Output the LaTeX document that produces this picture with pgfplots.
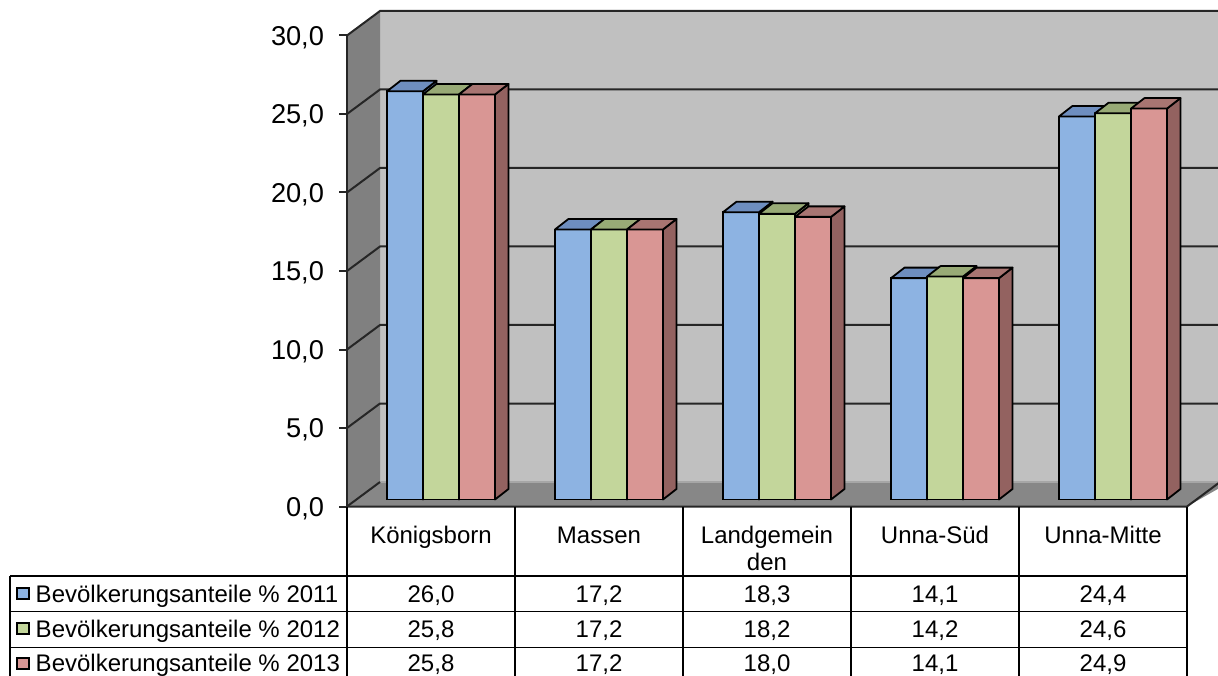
\documentclass[border=0pt]{standalone}
\usepackage{pgfplots}
\pgfplotsset{compat=1.18}
\usepackage{pgfplotstable}
\usepackage{fontspec}
\setmainfont{Liberation Sans}

\definecolor{cA}{HTML}{8DB3E2}
\definecolor{cAt}{HTML}{6E8EBF}
\definecolor{cAs}{HTML}{5E7BA6}
\definecolor{cB}{HTML}{C3D69B}
\definecolor{cBt}{HTML}{98AA76}
\definecolor{cBs}{HTML}{869668}
\definecolor{cC}{HTML}{D99694}
\definecolor{cCt}{HTML}{A87572}
\definecolor{cCs}{HTML}{936260}
\definecolor{wallL}{HTML}{808080}
\definecolor{wallB}{HTML}{C0C0C0}
\definecolor{floorc}{HTML}{878787}

\pgfplotstableread{
x v1 v2 v3
0 26.0 25.8 25.8
1 17.2 17.2 17.2
2 18.3 18.2 18.0
3 14.1 14.2 14.1
4 24.4 24.6 24.9
}\data

% 3D box of a bar (front, side, top); #2 = bar shift, #3 front, #4 top, #5 side colour
\newcommand\declbox[5]{%
\pgfdeclareplotmark{#1}{%
  \pgfmathsetlengthmacro\xl{#2-9pt}%
  \pgfmathsetlengthmacro\xr{#2+9pt}%
  \pgfmathsetlengthmacro\xlb{#2-9pt+6.75pt}%
  \pgfmathsetlengthmacro\xrb{#2+9pt+6.75pt}%
  \pgfmathsetlengthmacro\yb{-\val*7.85pt}%
  \pgfmathsetlengthmacro\ybb{-\val*7.85pt+5.25pt}%
  \pgfsetfillcolor{#3}%
  \pgfpathrectanglecorners{\pgfpoint{\xl}{\yb}}{\pgfpoint{\xr}{0pt}}%
  \pgfusepath{fill,stroke}%
  \pgfsetfillcolor{#5}%
  \pgfpathmoveto{\pgfpoint{\xr}{0pt}}%
  \pgfpathlineto{\pgfpoint{\xrb}{5.25pt}}%
  \pgfpathlineto{\pgfpoint{\xrb}{\ybb}}%
  \pgfpathlineto{\pgfpoint{\xr}{\yb}}%
  \pgfpathclose
  \pgfusepath{fill,stroke}%
  \pgfsetfillcolor{#4}%
  \pgfpathmoveto{\pgfpoint{\xl}{0pt}}%
  \pgfpathlineto{\pgfpoint{\xlb}{5.25pt}}%
  \pgfpathlineto{\pgfpoint{\xrb}{5.25pt}}%
  \pgfpathlineto{\pgfpoint{\xr}{0pt}}%
  \pgfpathclose
  \pgfusepath{fill,stroke}%
}}
\declbox{boxA}{-18pt}{cA}{cAt}{cAs}
\declbox{boxB}{0pt}{cB}{cBt}{cBs}
\declbox{boxC}{18pt}{cC}{cCt}{cCs}

\newcommand\tfont{\fontsize{12}{14}\selectfont}

\begin{document}
\begin{tikzpicture}
% walls and floor (pixel coordinates)
\begin{scope}[yshift=337.5pt, x=0.5pt, y=-0.5pt]
 \fill[wallB] (380,11) rectangle (1230,482);
 \fill[wallL] (347,35.5) -- (380,11) -- (380,482) -- (347,506.5) -- cycle;
 \fill[floorc] (347,506.5) -- (380,482) -- (1230,482) -- (1187,506.5) -- cycle;
 \draw[color=black!35, line width=0.6pt] (380,482) -- (1230,482);
 \foreach \v in {5,10,...,30} {
   \draw[black!85, line width=1pt] (347,506.5-15.7*\v) -- (380,482-15.7*\v) -- (1230,482-15.7*\v);
 }
 \draw[black!85, line width=1pt] (347,506.5) -- (380,482);
 \draw[black!85, line width=1pt] (347,506.5) -- (1187,506.5) -- (1220,482);
\end{scope}

% front value axis
\begin{axis}[at={(173.5pt,84.25pt)}, anchor=south west,
  x=84pt, y=7.85pt, xmin=-0.5, xmax=4.5, ymin=0, ymax=30,
  axis x line=none, axis y line*=left,
  ytick={0,5,...,30}, xtick=\empty,
  tick align=outside, major tick length=4pt,
  axis line style={line width=1pt, black!85},
  tick style={line width=1pt, black!85},
  yticklabel style={font=\fontsize{13.6}{15}\selectfont, xshift=-4pt, yshift=-1pt,
    /pgf/number format/fixed, /pgf/number format/fixed zerofill,
    /pgf/number format/precision=1, /pgf/number format/use comma,
    /pgf/number format/assume math mode=true},
  clip=false]
\addplot[draw=none, forget plot] coordinates {(0,0)};
\end{axis}

% bars
\begin{axis}[at={(178.5pt,87.75pt)}, anchor=south west,
  x=84pt, y=7.85pt, xmin=-0.5, xmax=4.5, ymin=0, ymax=30,
  hide axis, clip=false]
\addplot[ybar, bar width=18pt, bar shift=-18pt, fill=cA, draw=black, line width=0.9pt] table[x=x,y=v1]{\data};
\addplot[ybar, bar width=18pt, bar shift=0pt, fill=cB, draw=black, line width=0.9pt] table[x=x,y=v2]{\data};
\addplot[ybar, bar width=18pt, bar shift=18pt, fill=cC, draw=black, line width=0.9pt] table[x=x,y=v3]{\data};
\addplot[only marks, mark=boxA, draw=black, line width=0.9pt, line join=round, mark options={line width=0.9pt, draw=black},
  visualization depends on={\thisrow{v1}\as\val}] table[x=x,y=v1]{\data};
\addplot[only marks, mark=boxB, draw=black, line width=0.9pt, line join=round, mark options={line width=0.9pt, draw=black},
  visualization depends on={\thisrow{v2}\as\val}] table[x=x,y=v2]{\data};
\addplot[only marks, mark=boxC, draw=black, line width=0.9pt, line join=round, mark options={line width=0.9pt, draw=black},
  visualization depends on={\thisrow{v3}\as\val}] table[x=x,y=v3]{\data};
\end{axis}

% data table
\begin{scope}[yshift=337.5pt, x=0.5pt, y=-0.5pt, line width=0.75pt]
 \foreach \X in {347,515,683,851,1019,1187} \draw (\X,506.5) -- (\X,690);
 \foreach \Y in {576,611.7,647.3} \draw (10,\Y) -- (1187,\Y);
 \draw (10,576) -- (10,690);
 \begin{scope}[every node/.style={inner sep=0pt, font=\tfont, anchor=base}]
 \node at (431,543.5) {Königsborn};
 \node at (599,543.5) {Massen};
 \node at (767,543.5) {Landgemein};
 \node at (767,570.5) {den};
 \node at (935,543.5) {Unna-Süd};
 \node at (1103,543.5) {Unna-Mitte};
 \node[anchor=base west] at (35,602) {Bevölkerungsanteile \% 2011};
 \node[anchor=base west] at (35,637.5) {Bevölkerungsanteile \% 2012};
 \node[anchor=base west] at (35,671) {Bevölkerungsanteile \% 2013};
 \node at (431,602) {26,0}; \node at (599,602) {17,2}; \node at (767,602) {18,3}; \node at (935,602) {14,1}; \node at (1103,602) {24,4};
 \node at (431,637.5) {25,8}; \node at (599,637.5) {17,2}; \node at (767,637.5) {18,2}; \node at (935,637.5) {14,2}; \node at (1103,637.5) {24,6};
 \node at (431,671) {25,8}; \node at (599,671) {17,2}; \node at (767,671) {18,0}; \node at (935,671) {14,1}; \node at (1103,671) {24,9};
 \end{scope}
 \draw[fill=cA, line width=1pt] (17,587.5) rectangle (29,598.5);
 \draw[fill=cB, line width=1pt] (17,623.3) rectangle (29,634.3);
 \draw[fill=cC, line width=1pt] (17,658) rectangle (29,669);
\end{scope}

\pgfresetboundingbox
\path (0,0) rectangle (609pt,337.5pt);
\end{tikzpicture}
\end{document}
